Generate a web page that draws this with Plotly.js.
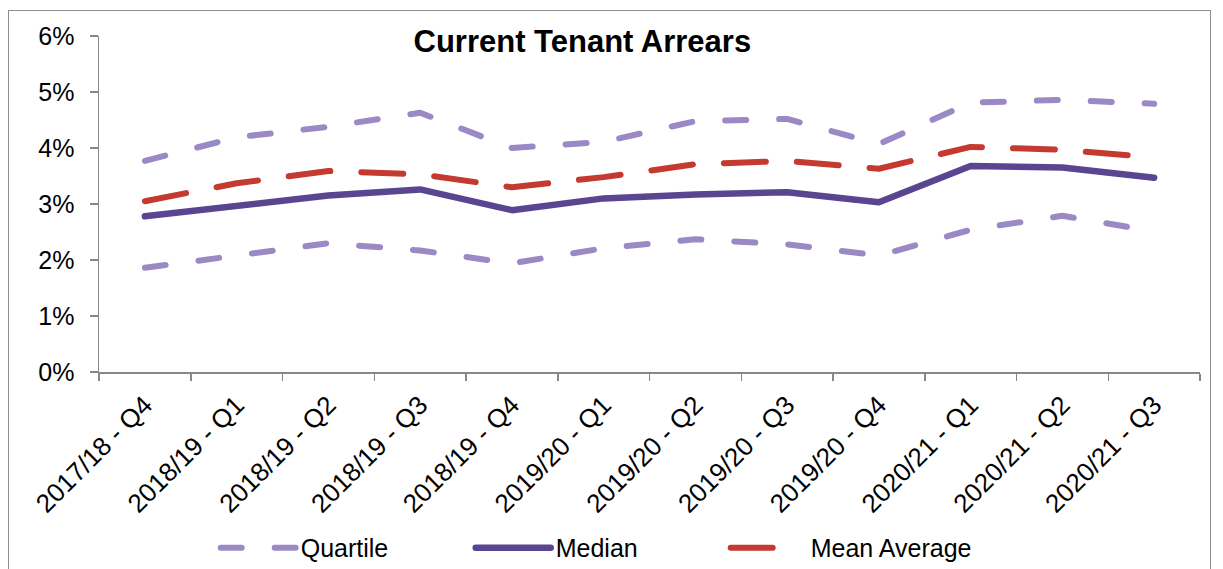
<!DOCTYPE html>
<html>
<head>
<meta charset="utf-8">
<script src="https://cdn.plot.ly/plotly-3.0.1.min.js"></script>
<style>
  html, body { margin: 0; padding: 0; background: #ffffff; }
  #wrap { position: relative; width: 1223px; height: 569px; overflow: hidden; }
  #chart { width: 1223px; height: 569px; }
  #frame { position: absolute; left: 8px; top: 10px; width: 1203px; height: 600px;
           border: 1.5px solid #8f8f8f; box-sizing: border-box; pointer-events: none; }
  .scatterlayer .js-line, .legendlines path { stroke-linecap: round; stroke-linejoin: round; }
</style>
</head>
<body>
<div id="wrap">
  <div id="chart"></div>
  <div id="frame"></div>
</div>
<script>
// Quarterly periods
const periods = [
  '2017/18 - Q4', '2018/19 - Q1', '2018/19 - Q2', '2018/19 - Q3',
  '2018/19 - Q4', '2019/20 - Q1', '2019/20 - Q2', '2019/20 - Q3',
  '2019/20 - Q4', '2020/21 - Q1', '2020/21 - Q2', '2020/21 - Q3'
];

// Current tenant arrears, % of rent due
const upperQuartile = [3.77, 4.19, 4.38, 4.63, 4.00, 4.11, 4.48, 4.52, 4.07, 4.81, 4.86, 4.79];
const lowerQuartile = [1.86, 2.08, 2.30, 2.17, 1.94, 2.21, 2.37, 2.28, 2.08, 2.54, 2.79, 2.51];
const median        = [2.78, 2.96, 3.15, 3.26, 2.89, 3.10, 3.17, 3.21, 3.03, 3.68, 3.65, 3.47];
const meanAverage   = [3.05, 3.37, 3.59, 3.53, 3.30, 3.48, 3.71, 3.77, 3.63, 4.02, 3.97, 3.83];

const yTicks = [0, 1, 2, 3, 4, 5, 6];
const yTickLabels = ['0%', '1%', '2%', '3%', '4%', '5%', '6%'];

const quartileLine = { color: '#9a89c5', width: 6, dash: '21px,33px' };
const medianLine   = { color: '#5a4690', width: 6.5 };
const meanLine     = { color: '#c43a31', width: 6, dash: '42px,31px' };

const traces = [
  { x: periods, y: upperQuartile, name: 'Quartile', legendgroup: 'q',
    mode: 'lines', line: quartileLine, hoverinfo: 'x+y' },
  { x: periods, y: lowerQuartile, name: 'Quartile', legendgroup: 'q', showlegend: false,
    mode: 'lines', line: quartileLine, hoverinfo: 'x+y' },
  { x: periods, y: median, name: 'Median',
    mode: 'lines', line: medianLine, hoverinfo: 'x+y' },
  { x: periods, y: meanAverage, name: 'Mean Average',
    mode: 'lines', line: meanLine, hoverinfo: 'x+y' }
];

const axisGrey = '#878787';
const font = 'Liberation Sans, Arial, sans-serif';

const layout = {
  width: 1223,
  height: 569,
  margin: { l: 99, r: 23, t: 36, b: 197 },
  paper_bgcolor: '#ffffff',
  plot_bgcolor: '#ffffff',
  font: { family: font, color: '#000000', size: 24 },
  title: {
    text: '<b>Current Tenant Arrears</b>',
    font: { family: font, size: 31, color: '#000000' },
    xref: 'paper', x: 0.439, xanchor: 'center',
    yref: 'container', y: 0.928, yanchor: 'middle'
  },
  xaxis: {
    type: 'category',
    range: [-0.5, 11.5],
    tickangle: -45,
    tickson: 'boundaries',
    ticks: 'outside', ticklen: 7, tickwidth: 1.5, tickcolor: axisGrey,
    showline: true, linecolor: axisGrey, linewidth: 1.5,
    showgrid: false, zeroline: false,
    tickfont: { family: font, size: 26, color: '#000000' },
    ticklabelstandoff: 6,
    fixedrange: true
  },
  yaxis: {
    range: [0, 6],
    tickmode: 'array',
    tickvals: yTicks,
    ticktext: yTickLabels,
    ticks: 'outside', ticklen: 8, tickwidth: 1.5, tickcolor: axisGrey,
    showline: true, linecolor: axisGrey, linewidth: 1.5,
    showgrid: false, zeroline: false,
    tickfont: { family: font, size: 25, color: '#000000' },
    ticklabelstandoff: 10,
    fixedrange: true
  },
  showlegend: true,
  legend: {
    orientation: 'h',
    x: 0.106, xanchor: 'left',
    yref: 'container', y: 0.037, yanchor: 'middle',
    font: { family: font, size: 25, color: '#000000' },
    itemwidth: 75,
    entrywidth: 165,
    bgcolor: 'rgba(0,0,0,0)'
  }
};

Plotly.newPlot('chart', traces, layout, { displayModeBar: false, staticPlot: true }).then(gd => {
  // the mean sample in the legend shows one long dash only
  gd.querySelectorAll('.legendlines path').forEach(p => {
    if (p.style.stroke === 'rgb(196, 58, 49)') p.style.strokeDasharray = '42px, 60px';
  });
});
</script>
</body>
</html>
